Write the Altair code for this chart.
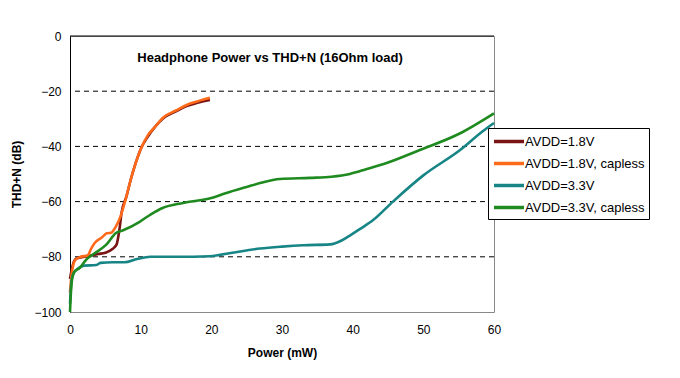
import altair as alt
import pandas as pd

# AVDD=1.8V
p18 = [0, 0.3, 0.6, 1.0, 2.0, 3.0, 4.0, 5.0, 6.0, 6.6, 7.0, 7.3, 8.0, 8.6, 9.3, 10.0, 11.0, 12.0, 13.2, 15.0, 16.5, 18.0, 19.8]
t18 = [-88, -84, -81.5, -80.5, -80, -79.5, -79, -78.5, -77.2, -75.5, -70, -64, -58, -52, -46, -41, -36.5, -33, -29.8, -27.3, -25.4, -24.2, -23.2]
# AVDD=1.8V, capless
p18c = [0, 0.2, 0.5, 0.8, 1.5, 2.5, 3.0, 3.5, 4.5, 5.2, 5.8, 6.5, 7.2, 8.0, 8.6, 9.3, 10.0, 11.0, 12.0, 13.2, 15.0, 16.5, 18.0, 19.8]
t18c = [-93, -87, -82.5, -81, -80, -79.5, -77, -75, -73, -71.5, -71.3, -69, -65, -58, -52, -46, -41, -36, -33, -29.5, -27, -25, -23.7, -22.4]
# AVDD=3.3V
p33 = [0, 0.2, 0.5, 1.0, 2.0, 3.7, 4.3, 6.0, 7.7, 9.5, 11.4, 15.0, 19.8, 23.0, 26.9, 30.0, 33.0, 36.8, 38.5, 39.6, 41.0, 42.9, 45.7, 50.0, 55.2, 58.4, 60.0]
t33 = [-97, -89, -86, -84.5, -83.2, -83, -82.2, -82, -82, -80.8, -80, -80, -79.8, -78.5, -77, -76.3, -75.8, -75.5, -74, -72.3, -70, -66.7, -60, -50.5, -41.3, -34.5, -31.5]
# AVDD=3.3V, capless
p33c = [0, 0.15, 0.3, 0.6, 1.4, 2.3, 3.5, 5.1, 6.5, 7.6, 9.8, 11.5, 13.1, 16.0, 20.0, 22.0, 25.0, 26.9, 29.7, 34.0, 37.0, 39.6, 42.0, 44.8, 49.5, 55.0, 60.0]
t33c = [-100, -92, -88, -85.5, -84, -81, -78.7, -75.7, -71.4, -70.3, -67.4, -64.5, -62.3, -60.5, -58.7, -57, -54.7, -53.3, -51.8, -51.4, -51, -50, -48.2, -46, -41.3, -35.5, -28]

series = ["AVDD=1.8V", "AVDD=1.8V, capless", "AVDD=3.3V", "AVDD=3.3V, capless"]
colors = ["#7a1414", "#ff6a1a", "#178585", "#1f8a1f"]
grid_vals = [-20, -40, -60, -80]
x_ticks = [0, 10, 20, 30, 40, 50, 60]
y_ticks = [0, -20, -40, -60, -80, -100]

rows = []
for name, xs, ys in zip(series, [p18, p18c, p33, p33c], [t18, t18c, t33, t33c]):
    for i, (x, y) in enumerate(zip(xs, ys)):
        rows.append({"series": name, "power": x, "thd": y, "i": i})
df = pd.DataFrame(rows)

FONT = "Liberation Sans"

xscale = alt.Scale(domain=[0, 60], nice=False, zero=False)
yscale = alt.Scale(domain=[-100, 0], nice=False, zero=False)

grid = alt.Chart(pd.DataFrame({"g": grid_vals})).mark_rule(
    color="black", strokeDash=[5, 4], strokeWidth=1
).encode(y=alt.Y("g:Q", scale=yscale))

top = alt.Chart(pd.DataFrame({"g": [0]})).mark_rule(color="black", strokeWidth=1).encode(
    y=alt.Y("g:Q", scale=yscale)
)

lines = alt.Chart(df).mark_line(strokeWidth=2.6, interpolate="monotone").encode(
    x=alt.X("power:Q", scale=xscale,
            axis=alt.Axis(values=x_ticks, title="Power (mW)", grid=False, ticks=False,
                          domain=False, labelPadding=12, titlePadding=12, labelFlush=False)),
    y=alt.Y("thd:Q", scale=yscale,
            axis=alt.Axis(values=y_ticks, title="THD+N (dB)", grid=False, ticks=False,
                          domainColor="black", labelPadding=9, titlePadding=10, labelFlush=False)),
    color=alt.Color("series:N", scale=alt.Scale(domain=series, range=colors),
                    legend=alt.Legend(title=None, orient="none", legendX=418, legendY=92,
                                      symbolType="M-1,0H3", symbolSize=225, symbolStrokeWidth=3.5,
                                      labelFontSize=13, labelFont=FONT, rowPadding=5,
                                      padding=4, strokeColor="black", fillColor="white",
                                      labelOffset=14)),
    order="i:Q",
)

chart = alt.layer(grid, lines, top).properties(
    width=424, height=276,
    padding={"left": 62, "top": 28, "right": 178, "bottom": 58},
    autosize=alt.AutoSizeParams(type="none"),
    title=alt.TitleParams("Headphone Power vs THD+N (16Ohm load)", fontSize=13, font=FONT,
                          fontWeight="bold", dx=-12, dy=39, anchor="middle"),
).configure_view(stroke="#888888", strokeWidth=1).configure_axis(
    labelFont=FONT, labelFontSize=12, labelColor="black",
    titleFont=FONT, titleFontSize=12, titleFontWeight="bold", titleColor="black",
)

chart.save("out.html", embed_options={"renderer": "svg", "actions": False})
